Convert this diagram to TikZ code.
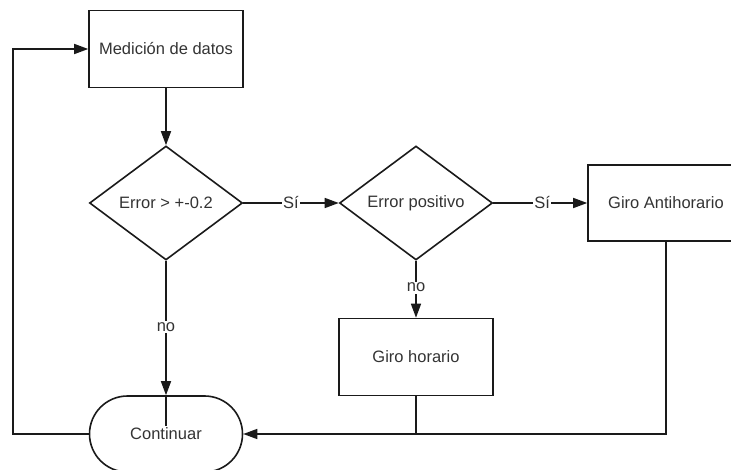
\documentclass[tikz,border=0pt]{standalone}
\usepackage{fontspec}
\setmainfont{Liberation Sans}
\usetikzlibrary{shapes.geometric,shapes.misc,arrows.meta}
\definecolor{txt}{HTML}{333333}
\definecolor{ln}{HTML}{1A1A1A}
\begin{document}
\begin{tikzpicture}[x=1pt,y=-1pt,
  every node/.style={font=\fontsize{16.5}{20}\selectfont, text=txt},
  box/.style={draw=ln, line width=1.6pt, rectangle, minimum width=154pt, minimum height=77pt, inner sep=0pt},
  dec/.style={draw=ln, line width=1.6pt, diamond, aspect=1.34, minimum width=153pt, minimum height=114pt, inner sep=0pt},
  term/.style={draw=ln, line width=1.6pt, rounded rectangle, minimum width=153pt, minimum height=76pt, inner sep=0pt},
  conn/.style={draw=ln, line width=1.6pt},
  arr/.style={conn, -{Triangle[length=14pt,width=10pt]}},
  lbl/.style={fill=white, inner sep=1.5pt}
]
\useasboundingbox (0,0) rectangle (731,470);
\node[box] (m) at (166,49) {Medición de datos};
\node[dec] (d1) at (166,203) {Error > +-0.2};
\node[dec] (d2) at (416,203) {Error positivo};
\node[box, minimum width=156pt, minimum height=76pt] (ga) at (666,203) {Giro Antihorario};
\node[box] (gh) at (416,357) {Giro horario};
\node[term] (c) at (166,434) {Continuar};
\coordinate (lp) at (13,434);

\draw[arr] (m.south) -- (d1.north);
\draw[arr] (d1.east) -- node[lbl, pos=0.5] {Sí} (d2.west);
\draw[arr] (d2.east) -- node[lbl, pos=0.52] {Sí} (ga.west);
\draw[arr] (d2.south) -- node[lbl, pos=0.47] {no} (gh.north);
\draw[arr] (d1.south) -- node[lbl, pos=0.49] {no} (c.north);
\draw[conn] (c.north) -- ++(0,31);
\draw[arr] (ga.south) |- (c.east);
\draw[conn] (gh.south) -- (gh.south |- c.east);
\draw[arr] (c.west) -- (lp) |- (m.west);
\end{tikzpicture}
\end{document}
